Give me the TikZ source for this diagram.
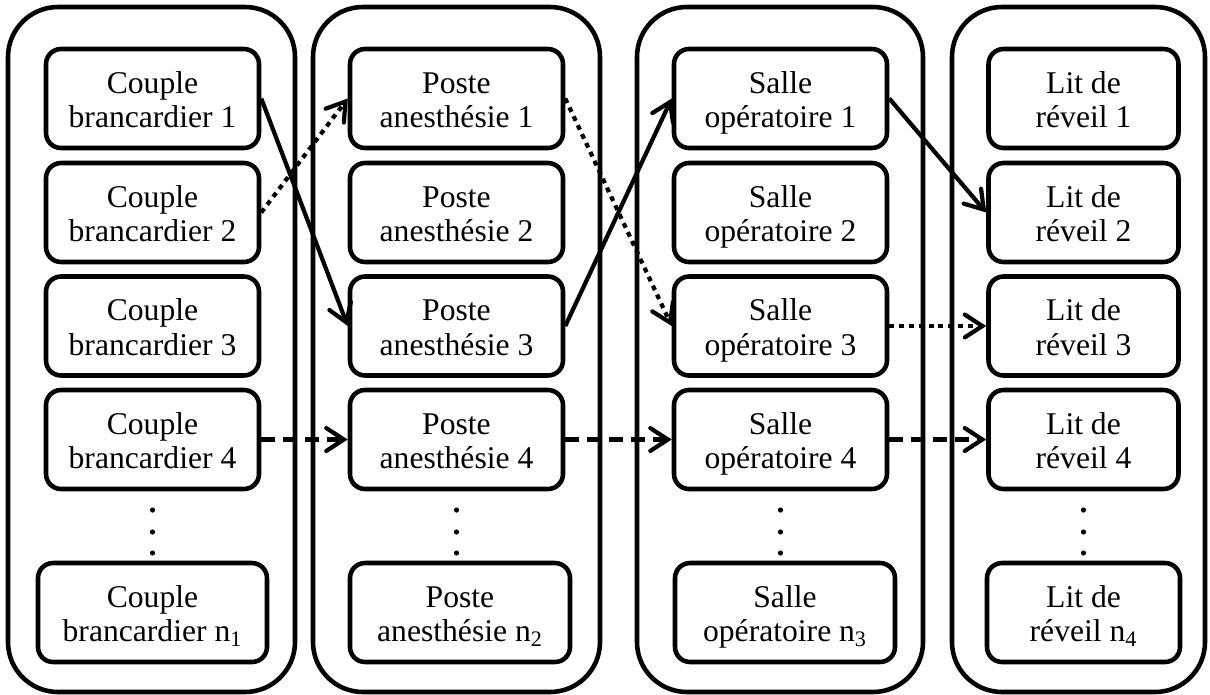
\documentclass[tikz,border=0pt]{standalone}
\usepackage{fontspec}
\setmainfont{Liberation Serif}
\usetikzlibrary{arrows.meta}

\begin{document}
\begin{tikzpicture}[x=0.02cm, y=-0.02cm,
  every node/.style = {font=\fontsize{18}{19.8}\selectfont, align=center},
  lane/.style = {draw, line width=2.6pt, rounded corners=1cm},
  post/.style = {shape=rectangle, rounded corners=0.3cm, draw, line width=2.6pt,
    minimum width=4.26cm, minimum height=1.98cm, inner sep=0pt,
    text height=38.4pt, text depth=5pt},
  link/.style = {line width=2.4pt, -{Straight Barb[length=10pt, width=13pt, line cap=round]}},
  linkdash/.style = {link, dash pattern=on 8pt off 4.5pt},
  linkdot/.style = {link, dash pattern=on 2.8pt off 2.8pt}]
  \useasboundingbox (0,0) rectangle (1210,694);

  \draw[lane] (8,7) rectangle (295,692);
  \draw[lane] (313,7) rectangle (600,692);
  \draw[lane] (637,7) rectangle (923,692);
  \draw[lane] (952,7) rectangle (1205,692);

  \foreach \i/\y in {1/98.5, 2/212.5, 3/326, 4/439.5} {
    \node[post] (c\i) at (152.5,\y) {Couple\\brancardier \i};
    \node[post] (p\i) at (456.5,\y) {Poste\\anesthésie \i};
    \node[post] (s\i) at (780.5,\y) {Salle\\opératoire \i};
    \node[post, minimum width=3.8cm] (l\i) at (1083.5,\y) {Lit de\\réveil \i};
  }

  \node[post, minimum width=4.58cm] (cn) at (152.5,612.5) {Couple\\brancardier n\textsubscript{1}};
  \node[post, minimum width=4.4cm] (pn) at (460,612.5) {Poste\\anesthésie n\textsubscript{2}};
  \node[post, minimum width=4.4cm] (sn) at (785,612.5) {Salle\\opératoire n\textsubscript{3}};
  \node[post, minimum width=3.86cm] (ln) at (1083.5,612.5) {Lit de\\réveil n\textsubscript{4}};

  \foreach \x in {152.5, 456.5, 780.5, 1083.5}
    \foreach \y in {510, 532, 553}
      \fill (\x,\y) circle (2.6);

  \draw[link] (c1.east) -- (p3.west);
  \draw[linkdot] (c2.east) -- (p1.west);
  \draw[linkdash] (c4.east) -- (p4.west);
  \draw[linkdot] (p1.east) -- (s3.west);
  \draw[link] (p3.east) -- (s1.west);
  \draw[linkdash] (p4.east) -- (s4.west);
  \draw[link] (s1.east) -- (l2.west);
  \draw[linkdot] (s3.east) -- (l3.west);
  \draw[linkdash] (s4.east) -- (l4.west);
\end{tikzpicture}
\end{document}
